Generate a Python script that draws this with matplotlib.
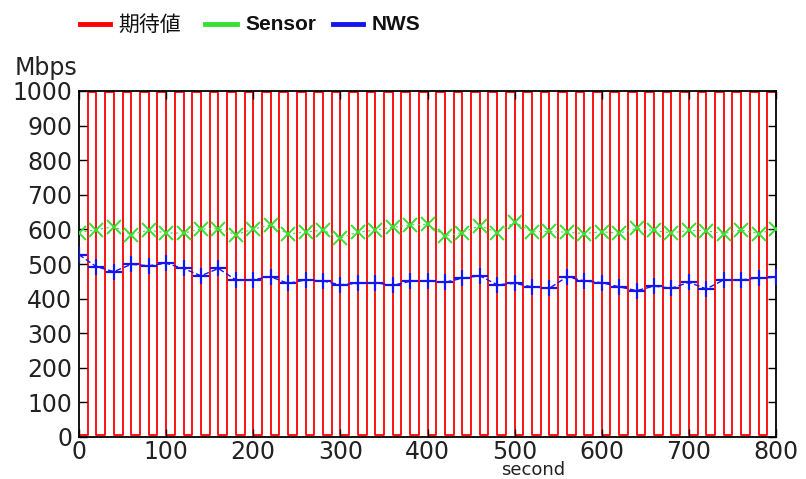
import matplotlib
matplotlib.use("Agg")
import matplotlib.pyplot as plt
from matplotlib.lines import Line2D

# expected throughput: square wave, switches every 10 s (low ~5, high ~996)
expected_t = list(range(0, 801, 10))
expected_mbps = [5, 996, 5, 996, 5, 996, 5, 996, 5, 996,
                 5, 996, 5, 996, 5, 996, 5, 996, 5, 996,
                 5, 996, 5, 996, 5, 996, 5, 996, 5, 996,
                 5, 996, 5, 996, 5, 996, 5, 996, 5, 996,
                 5, 996, 5, 996, 5, 996, 5, 996, 5, 996,
                 5, 996, 5, 996, 5, 996, 5, 996, 5, 996,
                 5, 996, 5, 996, 5, 996, 5, 996, 5, 996,
                 5, 996, 5, 996, 5, 996, 5, 996, 5, 996,
                 996]

# sampled every 20 s
sample_t = list(range(0, 801, 20))
sensor = [591, 599, 608, 585, 598, 590, 589, 601, 602, 585,
          601, 613, 587, 592, 598, 575, 592, 598, 606, 613,
          615, 581, 591, 611, 591, 621, 593, 594, 592, 588,
          593, 589, 603, 597, 590, 597, 596, 588, 598, 588,
          602]
nws = [527, 492, 478, 499, 495, 502, 487, 466, 487, 454,
       455, 463, 444, 454, 451, 440, 444, 446, 438, 450,
       452, 447, 459, 466, 440, 444, 434, 430, 463, 451,
       446, 434, 423, 436, 430, 447, 428, 454, 454, 460,
       461]

legend_labels = ["期待値", "Sensor", "NWS"]
colors = ["#ff0000", "#33e033", "#1515ee"]

fig = plt.figure(figsize=(8.06, 4.79), dpi=100)
ax = fig.add_axes([79/806, 42/479, 697/806, 346/479])

ax.plot(expected_t, expected_mbps, drawstyle="steps-post", color=colors[0], lw=1.3, zorder=1)
ax.plot(sample_t, sensor, color=colors[1], lw=0.8, ls=(0, (2, 3)), marker="x",
        ms=10, mew=1.4, zorder=3)
ax.plot(sample_t, nws, color=colors[2], lw=1.0, ls=(0, (4, 2)), marker="+",
        ms=12, mew=1.6, zorder=3)

ax.set_xlim(0, 800)
ax.set_ylim(0, 1000)
ax.set_xticks(range(0, 801, 100))
ax.set_yticks(range(0, 1001, 100))
ax.tick_params(direction="in", length=6, width=1, top=True, right=True,
               labelsize=17, labelcolor="#222222")
ax.tick_params(axis="x", pad=2)
ax.tick_params(axis="y", pad=5)
for s in ax.spines.values():
    s.set_linewidth(1.3)

fig.text(15/806, 1 - 68/479, "Mbps", fontsize=17, color="#222222", va="center", ha="left")
fig.text(533/806, 1 - 470/479, "second", fontsize=13, color="#222222", va="center", ha="center")

# legend row at the top
handle_x = [(80, 110), (205, 237), (333, 363)]
text_x = [118, 245, 372]
for (x0, x1), tx, c, lab in zip(handle_x, text_x, colors, legend_labels):
    fig.add_artist(Line2D([x0/806, x1/806], [1 - 24/479] * 2, color=c, lw=3.5,
                          transform=fig.transFigure))
    if lab == "期待値":
        fig.text(tx/806, 1 - 25/479, lab, fontsize=15, family="Noto Sans CJK JP",
                 va="center", ha="left", color="#111111")
    else:
        fig.text(tx/806, 1 - 25/479, lab, fontsize=15, family="Liberation Sans",
                 weight="bold", va="center", ha="left", color="#111111")

fig.savefig("out.png", dpi=100)
